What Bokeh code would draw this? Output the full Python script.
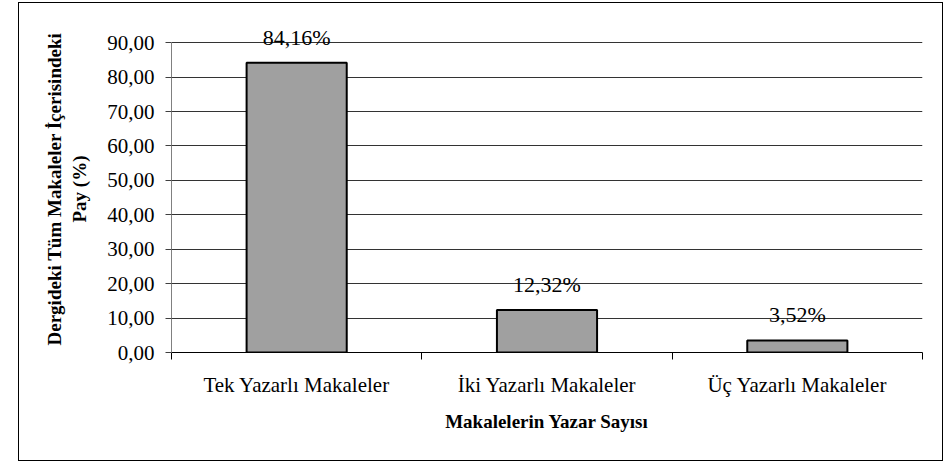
from bokeh.plotting import figure
from bokeh.models import Range1d, FixedTicker, ColumnDataSource, LabelSet
from bokeh.embed import file_html
from bokeh.resources import INLINE

categories = ["Tek Yazarlı Makaleler", "İki Yazarlı Makaleler", "Üç Yazarlı Makaleler"]
shares = [84.16, 12.32, 3.52]
y_ticks = [0, 10, 20, 30, 40, 50, 60, 70, 80, 90]
x_title = "Makalelerin Yazar Sayısı"
y_title = "Dergideki Tüm Makaleler İçerisindeki\nPay (%)"

FONT = "Liberation Serif"
n = len(categories)
xs = [i + 0.5 for i in range(n)]
labels = [f"{v:.2f}".replace(".", ",") + "%" for v in shares]
src = ColumnDataSource(dict(x=xs, top=shares, label=labels))

p = figure(frame_width=751, frame_height=327, x_range=Range1d(0, n), y_range=Range1d(0, 95),
           output_backend="svg", toolbar_location=None,
           min_border_left=152, min_border_right=20, min_border_top=22, min_border_bottom=108)
p.margin = (3, 0, 0, 19)
p.styles = {"outline": "1.5px solid #000", "outline-offset": "0px"}
p.outline_line_color = None
p.background_fill_color = "white"
p.border_fill_color = "white"

p.vbar(x="x", top="top", width=0.4, bottom=0, source=src,
       fill_color="#a0a0a0", line_color="black", line_width=2)

p.add_layout(LabelSet(x="x", y="top", text="label", source=src, text_align="center",
                      text_baseline="bottom", y_offset=13, text_font=FONT,
                      text_font_size="22px", text_color="black"))

# y axis
ya = p.yaxis[0]
ya.bounds = (0, 90)
ya.ticker = FixedTicker(ticks=y_ticks)
ya.major_label_overrides = {t: f"{t:.2f}".replace(".", ",") for t in y_ticks}
ya.minor_tick_line_color = None
ya.major_tick_out = 6
ya.major_tick_in = 0
ya.axis_line_color = "#808080"
ya.major_tick_line_color = "#404040"
ya.major_label_standoff = 11
ya.major_label_text_font = FONT
ya.major_label_text_font_size = "21px"
ya.major_label_text_color = "black"
ya.axis_label = y_title
ya.axis_label_text_font = FONT
ya.axis_label_text_font_size = "19px"
ya.axis_label_text_font_style = "bold"
ya.axis_label_text_color = "black"
ya.axis_label_standoff = 14

# x axis
xa = p.xaxis[0]
xa.ticker = FixedTicker(ticks=xs, minor_ticks=list(range(n + 1)))
xa.major_label_overrides = {x: c for x, c in zip(xs, categories)}
xa.major_tick_line_color = None
xa.major_tick_out = 7
xa.minor_tick_out = 7
xa.minor_tick_in = 0
xa.minor_tick_line_color = "black"
xa.axis_line_color = "black"
xa.major_label_standoff = 13
xa.major_label_text_font = FONT
xa.major_label_text_font_size = "21px"
xa.major_label_text_color = "black"
xa.axis_label = x_title
xa.axis_label_text_font = FONT
xa.axis_label_text_font_size = "19px"
xa.axis_label_text_font_style = "bold"
xa.axis_label_text_color = "black"
xa.axis_label_standoff = 11

p.xgrid.visible = False
p.ygrid.ticker = FixedTicker(ticks=y_ticks)
p.ygrid.bounds = (0, 90)
p.ygrid.grid_line_color = "#333333"
p.ygrid.grid_line_width = 1

open("out.html", "w").write(file_html(p, INLINE))
